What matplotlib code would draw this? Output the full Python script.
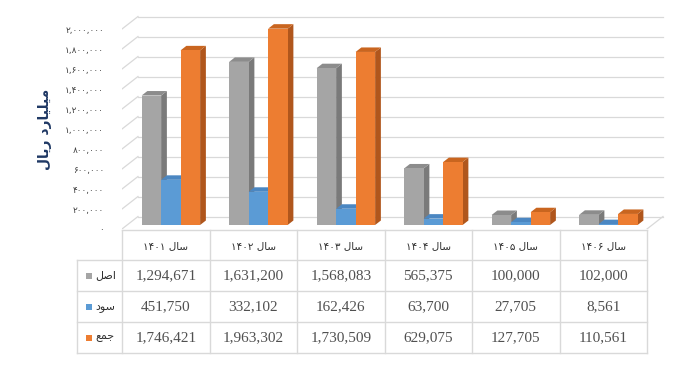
import matplotlib
matplotlib.use("Agg")
import matplotlib.pyplot as plt
from matplotlib.patches import Polygon, Rectangle

# --- data ---
years = ["سال ۱۴۰۱", "سال ۱۴۰۲", "سال ۱۴۰۳", "سال ۱۴۰۴", "سال ۱۴۰۵", "سال ۱۴۰۶"]
series_names = ["اصل", "سود", "جمع"]
asl = [1294671, 1631200, 1568083, 565375, 100000, 102000]
sood = [451750, 332102, 162426, 63700, 27705, 8561]
jam = [1746421, 1963302, 1730509, 629075, 127705, 110561]
y_ticks = list(range(0, 2000001, 200000))
y_label = "میلیارد ریال"

front_colors = ["#a5a5a5", "#5b9bd5", "#ed7d31"]
side_colors = ["#7a7a7a", "#41719c", "#b0561c"]
top_colors = ["#8c8c8c", "#4b87c2", "#c9651f"]

# matplotlib has no arabic shaping, so pick presentation forms by hand
FORMS = {  # isolated, final, initial, medial
    "ا": ("\ufe8d", "\ufe8e", None, None),
    "د": ("\ufea9", "\ufeaa", None, None),
    "ر": ("\ufead", "\ufeae", None, None),
    "و": ("\ufeed", "\ufeee", None, None),
    "ج": ("\ufe9d", "\ufe9e", "\ufe9f", "\ufea0"),
    "س": ("\ufeb1", "\ufeb2", "\ufeb3", "\ufeb4"),
    "ص": ("\ufeb9", "\ufeba", "\ufebb", "\ufebc"),
    "ع": ("\ufec9", "\ufeca", "\ufecb", "\ufecc"),
    "ل": ("\ufedd", "\ufede", "\ufedf", "\ufee0"),
    "م": ("\ufee1", "\ufee2", "\ufee3", "\ufee4"),
    "ی": ("\ufbfc", "\ufbfd", "\ufbfe", "\ufbff"),
}


def shape_word(w):
    if w[0] not in FORMS:
        return w
    out = []
    for i, ch in enumerate(w):
        f = FORMS[ch]
        joins_prev = i > 0 and FORMS[w[i - 1]][2] is not None
        joins_next = i < len(w) - 1 and f[2] is not None
        if joins_prev and joins_next:
            out.append(f[3])
        elif joins_prev:
            out.append(f[1])
        elif joins_next:
            out.append(f[2])
        else:
            out.append(f[0])
    return "".join(reversed(out))


def rtl(s):
    return " ".join(shape_word(w) for w in reversed(s.split(" ")))


FA = str.maketrans("0123456789", "۰۱۲۳۴۵۶۷۸۹")

W, H = 700, 374
fig = plt.figure(figsize=(7, 3.74), dpi=100)

# chart axes: x in category units, y in value units
ax = fig.add_axes([122 / W, (H - 229) / H, 546 / W, 221 / H])
ax.set_xlim(0, 546 / 87.5)
ax.set_ylim(0, 2210000)
for s in ax.spines.values():
    s.set_visible(False)
ax.set_xticks([])
ax.set_yticks(y_ticks)
ax.set_yticklabels([f"{v:,}".translate(FA) for v in y_ticks],
                   fontsize=6.5, color="#404040", family="DejaVu Sans")
ax.tick_params(axis="y", length=0, pad=13)

DX = 16 / 87.5   # depth offset in category units
DY = 125000      # depth offset in value units
n = len(years)
grid_c = "#d9d9d9"
for v in y_ticks:
    ax.plot([DX, n + DX], [v + DY, v + DY], color=grid_c, lw=0.9, zorder=1)
    ax.plot([0, DX], [v, v + DY], color=grid_c, lw=0.9, zorder=1)
ax.plot([n, n + DX], [0, DY], color=grid_c, lw=0.9, zorder=1)

z0, z1 = 0.32, 0.68
bw = 19.5 / 87.5
dz = z1 - z0
values = [asl, sood, jam]
for i in range(n):
    for j in range(3):
        v = values[j][i]
        xl = i + 0.5 - 1.5 * bw + j * bw + z0 * DX
        xr = xl + bw
        yb = z0 * DY
        yt = yb + v
        side = [(xr, yb), (xr + dz * DX, yb + dz * DY),
                (xr + dz * DX, yt + dz * DY), (xr, yt)]
        top = [(xl, yt), (xr, yt), (xr + dz * DX, yt + dz * DY),
               (xl + dz * DX, yt + dz * DY)]
        ax.add_patch(Polygon(side, closed=True, fc=side_colors[j], ec="none", zorder=3))
        ax.add_patch(Polygon(top, closed=True, fc=top_colors[j], ec="none", zorder=3))
        ax.add_patch(Rectangle((xl, yb), bw, v, fc=front_colors[j], ec="none", zorder=3))

ax.text(-0.88, 1000000, rtl(y_label), rotation=90, ha="center", va="center",
        fontsize=10, fontweight="bold", color="#1f3864", family="DejaVu Sans")

# data table under the chart (pixel coordinates overlay)
tab = fig.add_axes([0, 0, 1, 1])
tab.set_xlim(0, W)
tab.set_ylim(H, 0)
tab.axis("off")
tab.patch.set_alpha(0)
col_x = [122 + 87.5 * k for k in range(n + 1)]
row_y = [230, 260, 291, 322, 353]
lc = "#d9d9d9"
tab.plot([col_x[0], col_x[-1]], [row_y[0], row_y[0]], color=lc, lw=1)
for y in row_y[1:]:
    tab.plot([77, col_x[-1]], [y, y], color=lc, lw=1)
for x in col_x:
    tab.plot([x, x], [row_y[0], row_y[-1]], color=lc, lw=1)
tab.plot([77, 77], [row_y[1], row_y[-1]], color=lc, lw=1)

for k, yr in enumerate(years):
    tab.text((col_x[k] + col_x[k + 1]) / 2, (row_y[0] + row_y[1]) / 2 + 1, rtl(yr),
             ha="center", va="center", fontsize=7.5, color="#303030", family="DejaVu Sans")
for j, name in enumerate(series_names):
    yc = (row_y[j + 1] + row_y[j + 2]) / 2
    tab.add_patch(Rectangle((86, yc - 3), 6, 6, fc=front_colors[j], ec="none"))
    tab.text(95, yc, rtl(name), ha="left", va="center", fontsize=8,
             color="#303030", family="DejaVu Sans")
    for k in range(n):
        tab.text((col_x[k] + col_x[k + 1]) / 2, yc, f"{values[j][k]:,}",
                 ha="center", va="center", fontsize=11, color="#505050",
                 family="Liberation Serif")

fig.savefig("out.png", dpi=100)
